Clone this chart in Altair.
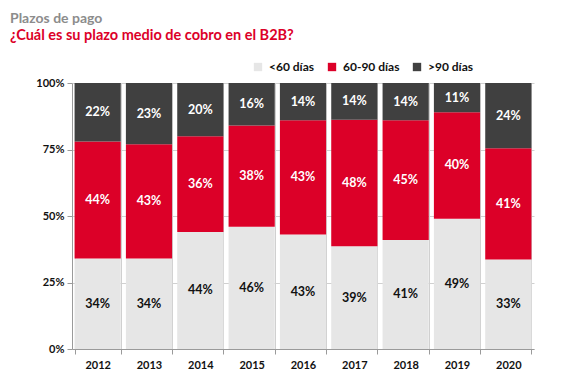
import altair as alt
import pandas as pd

years = ["2012", "2013", "2014", "2015", "2016", "2017", "2018", "2019", "2020"]
categories = ["<60 días", "60-90 días", ">90 días"]
menos60 = [34, 34, 44, 46, 43, 39, 41, 49, 33]
entre60_90 = [44, 43, 36, 38, 43, 48, 45, 40, 41]
mas90 = [22, 23, 20, 16, 14, 14, 14, 11, 24]
colors = ["#e6e6e6", "#dc0028", "#404040"]

rows = []
for i, y in enumerate(years):
    for k, (cat, vals) in enumerate(zip(categories, [menos60, entre60_90, mas90])):
        rows.append({"year": y, "cat": cat, "order": k, "value": vals[i]})
df = pd.DataFrame(rows)

FONT = "Lato"

base = (
    alt.Chart(df)
    .transform_joinaggregate(total="sum(value)", groupby=["year"])
    .transform_calculate(frac="datum.value / datum.total")
    .transform_stack(stack="frac", groupby=["year"], as_=["y0", "y1"],
                     sort=[alt.SortField("order", order="ascending")])
    .transform_calculate(mid="(datum.y0 + datum.y1) / 2")
)

xenc = alt.X(
    "year:N", sort=years, title=None,
    scale=alt.Scale(paddingInner=0.1, paddingOuter=0.05),
    axis=alt.Axis(labelAngle=0, tickBand="extent", grid=True, gridColor="#d0d0d0",
                  domainColor="#9a9a9a", tickColor="#9a9a9a", tickSize=5,
                  labelFont=FONT, labelFontSize=11, labelFontWeight="bold",
                  labelColor="#111", labelPadding=5),
)

bars = base.mark_bar().encode(
    x=xenc,
    y=alt.Y("y0:Q", title=None, scale=alt.Scale(domain=[0, 1]),
            axis=alt.Axis(format="%", values=[0, 0.25, 0.5, 0.75, 1],
                          gridColor="#d0d0d0", domainColor="#9a9a9a",
                          tickColor="#9a9a9a", tickSize=5, labelPadding=3,
                          labelFont=FONT, labelFontSize=11, labelFontWeight="bold",
                          labelColor="#111")),
    y2="y1:Q",
    color=alt.Color("cat:N", sort=categories,
                    scale=alt.Scale(domain=categories, range=colors),
                    legend=alt.Legend(title=None, orient="none", direction="horizontal",
                                      legendX=180, legendY=-22, symbolType="square",
                                      symbolSize=70, symbolStrokeWidth=0,
                                      labelFont=FONT, labelFontSize=12,
                                      labelFontWeight="bold", labelColor="#111",
                                      columnPadding=11, labelOffset=5)),
    order=alt.Order("order:Q"),
)

labels = base.mark_text(font=FONT, fontSize=12.5, fontWeight="bold").encode(
    x=alt.X("year:N", sort=years),
    y=alt.Y("mid:Q"),
    color=alt.condition(alt.datum.cat == "<60 días", alt.value("#111"), alt.value("white")),
).transform_calculate(lab="datum.value + '%'").encode(text="lab:N")

chart = (
    alt.layer(bars, labels)
    .properties(
        width=462, height=266,
        autosize=alt.AutoSizeParams(type="none"),
        padding={"left": 64, "top": 75, "right": 30, "bottom": 30},
        title=alt.TitleParams(
            text="Plazos de pago",
            subtitle="¿Cuál es su plazo medio de cobro en el B2B?",
            anchor="start", frame="group", dx=-62, dy=-15,
            font=FONT, fontSize=14, fontWeight="bold", color="#8c8c8c",
            subtitleFont=FONT, subtitleFontSize=14.5, subtitleFontWeight="bold",
            subtitleColor="#dc0028", subtitlePadding=3,
        ),
    )
    .configure_view(stroke=None)
)

chart.save("out.html", embed_options={"renderer": "svg", "actions": False})
